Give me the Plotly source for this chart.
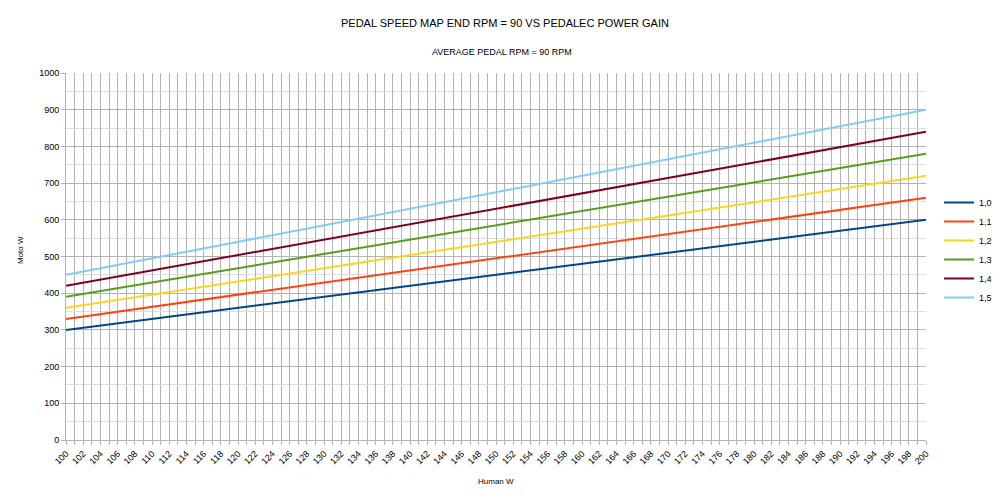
import plotly.graph_objects as go

human_w = [100, 200]
series_names = ["1,0", "1,1", "1,2", "1,3", "1,4", "1,5"]
series_values = [
    [300, 600],
    [330, 660],
    [360, 720],
    [390, 780],
    [420, 840],
    [450, 900],
]
colors = ["#004586", "#ff420e", "#ffd320", "#579d1c", "#7e0021", "#83caff"]

fig = go.Figure()
for name, vals, c in zip(series_names, series_values, colors):
    fig.add_trace(go.Scatter(x=human_w, y=vals, mode="lines", name=name,
                             line=dict(color=c, width=2)))

OFF = 8  # page offset of the figure inside the browser window
W, H = 1000, 500
L, T = 66 - OFF, 73 - OFF
PW, PH = 860, 367
R, B = W - L - PW, H - T - PH


def px(xp):
    return (xp - OFF - L) / PW


def py(yp):
    return (T + PH - (yp - OFF)) / PH


font = "Liberation Sans, Arial, sans-serif"
fig.update_layout(
    width=W, height=H,
    paper_bgcolor="white", plot_bgcolor="white",
    margin=dict(l=L, r=R, t=T, b=B, autoexpand=False),
    font=dict(family=font, size=9, color="black"),
    showlegend=True,
    legend=dict(x=px(939), y=py(250), xanchor="left", yanchor="middle",
                font=dict(size=9), tracegroupgap=0, itemwidth=30),
    annotations=[
        dict(text="PEDAL SPEED MAP END RPM = 90 VS PEDALEC POWER GAIN", x=px(505), y=py(23),
             xref="paper", yref="paper", showarrow=False, yanchor="middle", font=dict(size=11)),
        dict(text="AVERAGE PEDAL RPM = 90 RPM", x=px(502), y=py(52), xref="paper", yref="paper",
             showarrow=False, yanchor="middle", font=dict(size=9)),
        dict(text="Human W", x=px(496), y=py(481), xref="paper", yref="paper",
             showarrow=False, yanchor="middle", font=dict(size=8)),
        dict(text="Moto W", x=px(20), y=py(250), xref="paper", yref="paper", textangle=-90,
             showarrow=False, xanchor="center", yanchor="middle", font=dict(size=8)),
    ],
)

fig.update_xaxes(
    range=[100, 200], tick0=100, dtick=2, tickangle=-45, automargin=False,
    showgrid=True, gridcolor="#b3b3b3", gridwidth=1,
    ticks="outside", ticklen=4, tickcolor="#b3b3b3",
    minor=dict(dtick=1, showgrid=True, gridcolor="#b3b3b3", ticks="outside", ticklen=4, tickcolor="#b3b3b3"),
    showline=True, linecolor="#b3b3b3", zeroline=False,
    tickfont=dict(size=9),
)
fig.update_yaxes(
    range=[0, 1000], dtick=100, automargin=False,
    showgrid=True, gridcolor="#b3b3b3", gridwidth=1,
    ticks="outside", ticklen=4, tickcolor="#b3b3b3",
    minor=dict(dtick=50, showgrid=True, gridcolor="#dddddd"),
    showline=True, linecolor="#b3b3b3", zeroline=False,
    tickfont=dict(size=9),
)

fig.write_html("out.html")
